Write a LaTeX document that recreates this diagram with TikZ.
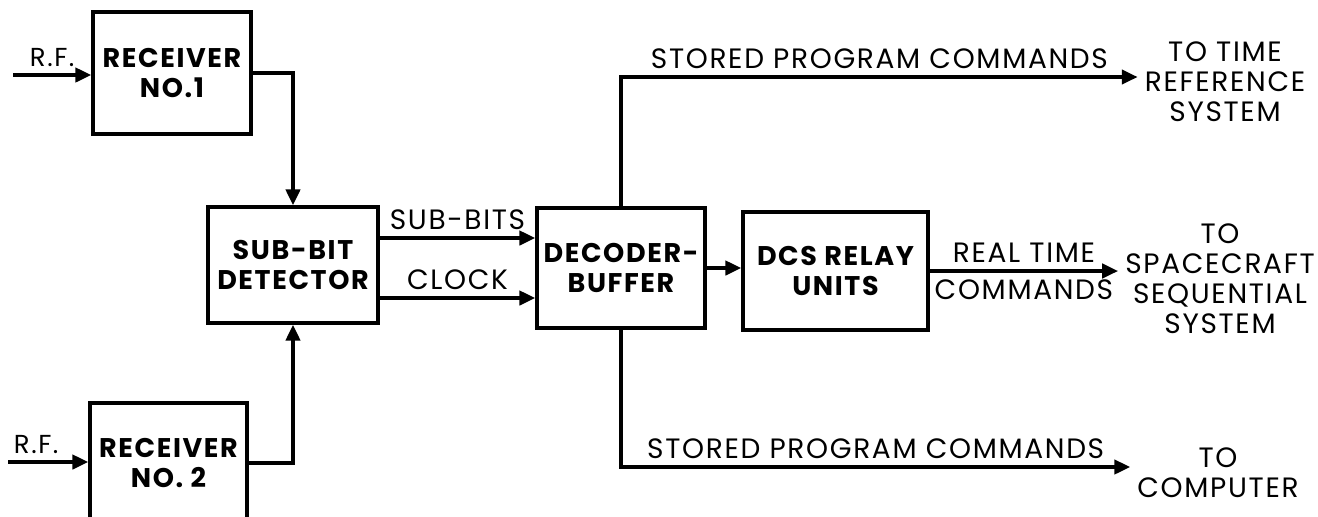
\documentclass[tikz,border=0pt]{standalone}
\usepackage{fontspec}
\setmainfont{Poppins}[LetterSpace=6]
\usetikzlibrary{arrows.meta}

\begin{document}
\begin{tikzpicture}[x=0.5pt, y=-0.5pt,
    block/.style={draw, line width=1.6pt, align=center, inner sep=0pt, font=\bfseries\fontsize{13.5}{15}\selectfont},
    flow/.style={line width=2pt, -{Triangle[length=8pt,width=7pt]}},
    lbl/.style={font=\fontsize{14}{15}\selectfont},
    dest/.style={align=center, font=\fontsize{14}{15}\selectfont}]
\useasboundingbox (0,0) rectangle (1318,516);

\node[block, minimum width=79pt, minimum height=61pt] (rcvA) at (172,73) {RECEIVER\\NO.1};
\node[block, minimum width=78.5pt, minimum height=60pt] (rcvB) at (168.5,463) {RECEIVER\\NO. 2};
\node[block, minimum width=85pt, minimum height=58pt] (sub) at (293,265) {SUB-BIT\\DETECTOR};
\node[block, minimum width=84pt, minimum height=60pt] (dec) at (621,268) {DECODER-\\BUFFER};
\node[block, minimum width=92.5pt, minimum height=59pt] (dcs) at (835.5,271) {DCS RELAY\\UNITS};

\node[dest] (toRef) at (1225,82) {TO TIME\\REFERENCE\\SYSTEM};
\node[dest] (toSeq) at (1220,279) {TO\\SPACECRAFT\\SEQUENTIAL\\SYSTEM};
\node[dest] (toComp) at (1218,473) {TO\\COMPUTER};

\coordinate (rfA) at (13,75);
\coordinate (rfB) at (8,462);

\draw[flow] (rfA) -- (rfA -| rcvA.west) node[lbl, above, midway, font=\fontsize{13}{14}\selectfont] {R.F.};
\draw[flow] (rfB) -- (rfB -| rcvB.west) node[lbl, above, pos=0.35, font=\fontsize{13}{14}\selectfont] {R.F.};
\draw[flow] (rcvA.east) -| (sub.north);
\draw[flow] (rcvB.east) -| (sub.south);
\draw[flow] (sub.east |- 0,238) -- (dec.west |- 0,238) node[lbl, above, midway] {SUB-BITS};
\draw[flow] (sub.east |- 0,298) -- (dec.west |- 0,298) node[lbl, above, midway] {CLOCK};
\draw[flow] (dec.east) -- (dcs.west |- dec.east);
\draw[flow] (dec.north) |- (toRef.west |- 0,77) node[lbl, above, pos=0.75] {STORED PROGRAM COMMANDS};
\draw[flow] (dec.south) |- (toComp.west |- 0,467) node[lbl, above, pos=0.75] {STORED PROGRAM COMMANDS};
\draw[flow] (dcs.east) -- (toSeq.west |- dcs.east) node[lbl, above, midway] {REAL TIME} node[lbl, below, midway] {COMMANDS};
\end{tikzpicture}
\end{document}
